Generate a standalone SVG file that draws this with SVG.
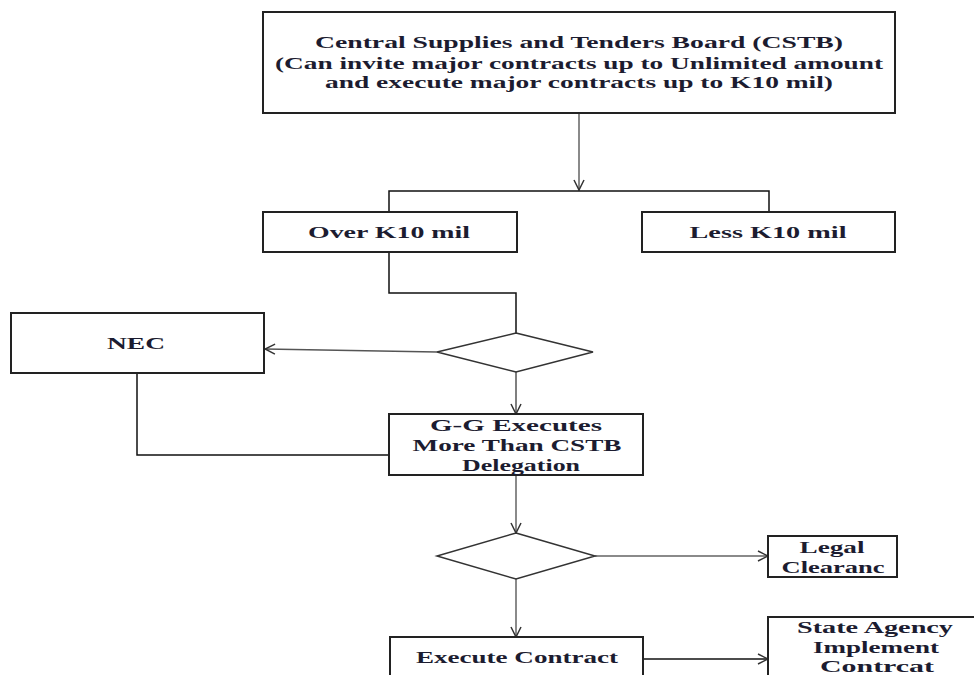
<svg xmlns="http://www.w3.org/2000/svg" width="974" height="675" viewBox="0 0 974 675">
<defs>
<style>
.box{fill:#fff;stroke:#222;stroke-width:2}
.dia{fill:#fff;stroke:#333;stroke-width:1.5}
.ln{fill:none;stroke:#111;stroke-width:1.5}
.gl{fill:none;stroke:#8a8a8a;stroke-width:2}
.dl{fill:none;stroke:#555;stroke-width:1.5}
.t{font-family:"Liberation Serif","Times New Roman",serif;font-size:17px;font-weight:bold;fill:#1c1c30;text-anchor:middle}
</style>
<marker id="ah" viewBox="0 0 12 12" refX="11" refY="6" markerWidth="12" markerHeight="12" markerUnits="userSpaceOnUse" orient="auto">
<polyline points="1,1 11,6 1,11" fill="none" stroke="#333" stroke-width="1.5"/>
</marker>
</defs>
<rect width="974" height="675" fill="#fff"/>
<g id="connectors">
<line class="gl" x1="579" y1="113" x2="579" y2="190" marker-end="url(#ah)"/>
<polyline class="ln" points="389,212 389,191 769,191 769,212"/>
<polyline class="ln" points="389,252 389,293 516,293 516,333"/>
<line class="dl" x1="437" y1="352" x2="265" y2="349" marker-end="url(#ah)"/>
<polyline class="ln" points="137,373 137,455 389,455"/>
<line class="dl" x1="516" y1="372" x2="516" y2="414" marker-end="url(#ah)"/>
<line class="gl" x1="516" y1="475" x2="516" y2="533" marker-end="url(#ah)"/>
<line class="gl" x1="595" y1="556" x2="768" y2="556" marker-end="url(#ah)"/>
<line class="gl" x1="516" y1="579" x2="516" y2="637" marker-end="url(#ah)"/>
<line class="ln" x1="643" y1="659" x2="768" y2="659" marker-end="url(#ah)"/>
</g>
<g id="cstb">
<rect class="box" x="263" y="12" width="632" height="101"/>
<text class="t" x="579" y="48" textLength="528" lengthAdjust="spacingAndGlyphs">Central Supplies and Tenders Board (CSTB)</text>
<text class="t" x="579" y="69" textLength="608" lengthAdjust="spacingAndGlyphs">(Can invite major contracts up to Unlimited amount</text>
<text class="t" x="579" y="88" textLength="508" lengthAdjust="spacingAndGlyphs">and execute major contracts up to K10 mil)</text>
</g>
<g id="over">
<rect class="box" x="263" y="212" width="254" height="40"/>
<text class="t" x="389" y="238" textLength="162" lengthAdjust="spacingAndGlyphs">Over K10 mil</text>
</g>
<g id="less">
<rect class="box" x="642" y="212" width="253" height="40"/>
<text class="t" x="768" y="238" textLength="157" lengthAdjust="spacingAndGlyphs">Less K10 mil</text>
</g>
<g id="decision1">
<polygon class="dia" points="516,333 593,352 516,372 437,352"/>
</g>
<g id="nec">
<rect class="box" x="11" y="313" width="253" height="60"/>
<text class="t" x="136" y="349" textLength="58" lengthAdjust="spacingAndGlyphs">NEC</text>
</g>
<g id="gg">
<rect class="box" x="389" y="414" width="254" height="61"/>
<text class="t" x="516" y="431" textLength="172" lengthAdjust="spacingAndGlyphs">G-G  Executes</text>
<text class="t" x="517" y="451" textLength="209" lengthAdjust="spacingAndGlyphs">More Than CSTB</text>
<text class="t" x="521" y="471" textLength="118" lengthAdjust="spacingAndGlyphs">Delegation</text>
</g>
<g id="decision2">
<polygon class="dia" points="516,533 595,556 516,579 437,556"/>
</g>
<g id="legal">
<rect class="box" x="768" y="536" width="129" height="41"/>
<text class="t" x="832" y="553" textLength="65" lengthAdjust="spacingAndGlyphs">Legal</text>
<text class="t" x="833" y="573" textLength="103" lengthAdjust="spacingAndGlyphs">Clearanc</text>
</g>
<g id="execute">
<rect class="box" x="390" y="637" width="253" height="60"/>
<text class="t" x="517" y="663" textLength="202" lengthAdjust="spacingAndGlyphs">Execute Contract</text>
</g>
<g id="state">
<rect class="box" x="768" y="617" width="220" height="80"/>
<text class="t" x="875" y="633" textLength="156" lengthAdjust="spacingAndGlyphs">State Agency</text>
<text class="t" x="876" y="653" textLength="126" lengthAdjust="spacingAndGlyphs">Implement</text>
<text class="t" x="877" y="672" textLength="114" lengthAdjust="spacingAndGlyphs">Contrcat</text>
</g>
</svg>
